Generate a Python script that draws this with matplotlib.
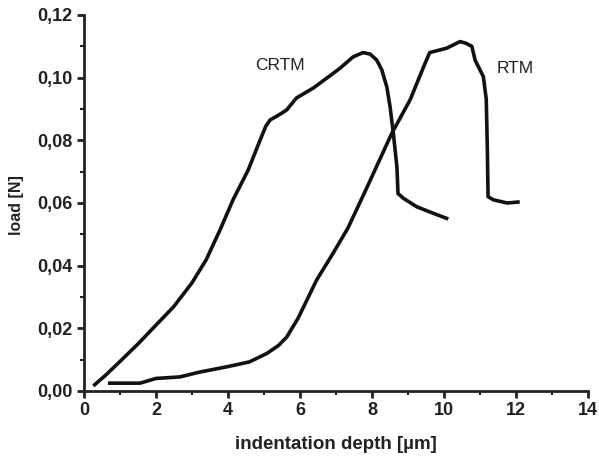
import matplotlib
matplotlib.use("Agg")
import matplotlib.pyplot as plt
from matplotlib.ticker import FuncFormatter, MultipleLocator

crtm_x = [0.3, 0.6, 1.0, 1.5, 2.0, 2.5, 3.0, 3.4, 3.78, 4.14, 4.56, 4.89, 5.05, 5.17, 5.4,
          5.63, 5.9, 6.37, 6.75, 7.11, 7.47, 7.75, 7.95, 8.13, 8.27, 8.41, 8.5, 8.59,
          8.69, 8.72, 8.87, 9.24, 9.7, 10.07]
crtm_y = [0.002, 0.005, 0.0094, 0.015, 0.021, 0.027, 0.0345, 0.042, 0.0514, 0.061, 0.0705,
          0.080, 0.0845, 0.0865, 0.088, 0.0897, 0.0935, 0.0967, 0.0999, 0.103, 0.1066,
          0.108, 0.1075, 0.1056, 0.1025, 0.097, 0.0907, 0.0823, 0.0715, 0.063, 0.0615,
          0.0588, 0.0567, 0.0551]

rtm_x = [0.72, 1.1, 1.56, 2.0, 2.67, 3.2, 3.96, 4.6, 5.08, 5.4, 5.63, 5.95, 6.46, 6.92,
         7.33, 7.86, 8.55, 9.06, 9.45, 9.6, 10.07, 10.44, 10.6, 10.77, 10.86, 11.09,
         11.17, 11.2, 11.22, 11.37, 11.75, 12.05]
rtm_y = [0.0025, 0.0025, 0.0025, 0.004, 0.0045, 0.006, 0.0077, 0.0093, 0.012, 0.0145,
         0.0172, 0.0233, 0.0354, 0.044, 0.052, 0.065, 0.0823, 0.093, 0.104, 0.108, 0.1094,
         0.1115, 0.111, 0.11, 0.1056, 0.1003, 0.093, 0.077, 0.062, 0.061, 0.060, 0.0603]

labels = ["CRTM", "RTM"]
label_pos = [(5.44, 0.104), (11.97, 0.103)]

plt.rcParams['font.family'] = ['Liberation Sans', 'DejaVu Sans']
fig = plt.figure(figsize=(5.99, 4.58), dpi=100)
ax = fig.add_axes([0.140, 0.1463, 0.842, 0.821])

ax.plot(crtm_x, crtm_y, color='#111111', lw=2.6, solid_joinstyle='round')
ax.plot(rtm_x, rtm_y, color='#111111', lw=2.6, solid_joinstyle='round')
for t, (px, py) in zip(labels, label_pos):
    ax.text(px, py, t, fontsize=12.5, ha='center', va='center', color='#222222')

ax.set_xlim(0, 14)
ax.set_ylim(0, 0.12)
ax.xaxis.set_major_locator(MultipleLocator(2))
ax.xaxis.set_minor_locator(MultipleLocator(1))
ax.yaxis.set_major_locator(MultipleLocator(0.02))
ax.yaxis.set_minor_locator(MultipleLocator(0.01))
ax.yaxis.set_major_formatter(FuncFormatter(lambda v, p: f"{v:.2f}".replace('.', ',')))
ax.xaxis.set_major_formatter(FuncFormatter(lambda v, p: f"{v:.0f}"))

for s in ['top', 'right']:
    ax.spines[s].set_visible(False)
for s in ['left', 'bottom']:
    ax.spines[s].set_linewidth(2)
    ax.spines[s].set_color('#222222')

ax.tick_params(which='major', direction='out', length=5, width=2, color='#222222',
               labelsize=13, pad=3)
ax.tick_params(which='minor', direction='out', length=3, width=1.5, color='#222222')
for lab in ax.get_xticklabels() + ax.get_yticklabels():
    lab.set_fontweight('bold')
    lab.set_color('#222222')

ax.set_xlabel('indentation depth [µm]', fontsize=13.5, fontweight='bold', color='#222222', labelpad=12)
ax.set_ylabel('load [N]', fontsize=11.5, fontweight='bold', color='#222222')
ax.yaxis.set_label_coords(-0.119, 0.495)

fig.savefig('out.png', dpi=100)
